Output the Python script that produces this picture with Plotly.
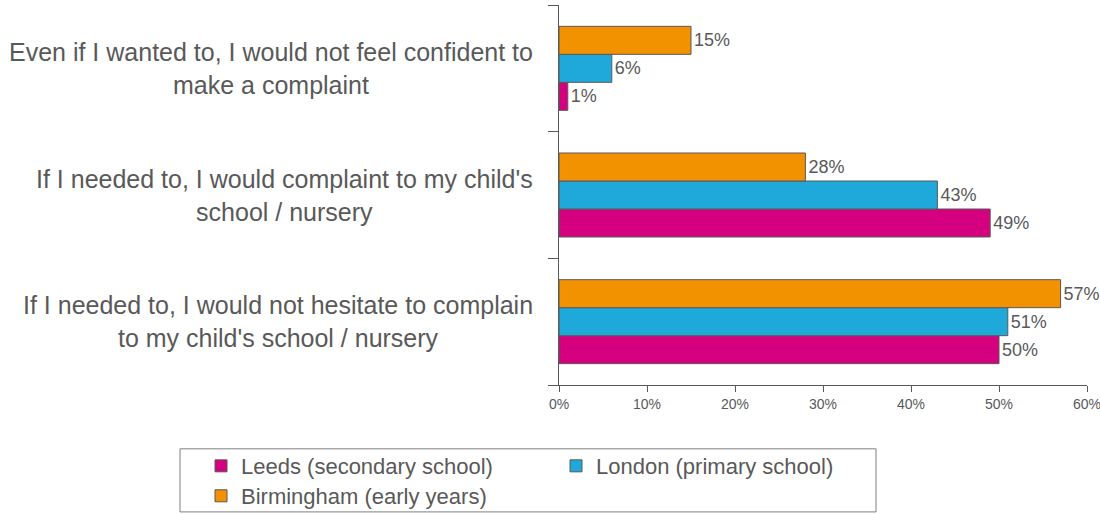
import plotly.graph_objects as go

# Survey statements (listed bottom to top along the category axis)
statements = [
    "If I needed to, I would not hesitate to complain<br>to my child's school / nursery",
    "If I needed to, I would complaint to my child's<br>school / nursery",
    "Even if I wanted to, I would not feel confident to<br>make a complaint",
]

series_names = ["Leeds (secondary school)", "London (primary school)", "Birmingham (early years)"]
leeds = [50, 49, 1]
london = [51, 43, 6]
birmingham = [57, 28, 15]
series_values = [leeds, london, birmingham]
series_colors = ["#D5007F", "#1FA9DB", "#F39200"]
series_legend = ["legend", "legend", "legend2"]

x_tick_values = [0, 10, 20, 30, 40, 50, 60]
x_tick_labels = ["0%", "10%", "20%", "30%", "40%", "50%", "60%"]

FONT = "Liberation Sans, Arial, sans-serif"
GREY = "#595959"

fig = go.Figure()
for name, vals, color, lg in zip(series_names, series_values, series_colors, series_legend):
    fig.add_trace(go.Bar(
        y=statements,
        x=vals,
        name=name,
        orientation="h",
        marker=dict(color=color, line=dict(color=GREY, width=1)),
        text=[f"{v}%" for v in vals],
        textposition="outside",
        textfont=dict(family=FONT, size=18, color=GREY),
        constraintext="none",
        cliponaxis=False,
        legend=lg,
    ))

# Category labels: each block right-aligned to the axis, lines centred within it
for s in statements:
    fig.add_annotation(
        x=0, xref="paper", xanchor="right", xshift=-24,
        y=s, yref="y", yanchor="middle",
        text=s, align="center", showarrow=False,
        font=dict(family=FONT, size=25, color=GREY),
    )

# Frame around both legend rows
fig.add_shape(type="rect", xref="paper", yref="paper",
              x0=-0.7178, x1=0.6004, y0=-0.334, y1=-0.168,
              line=dict(color="#7F7F7F", width=1), fillcolor="rgba(0,0,0,0)")

legend_common = dict(
    orientation="h", xanchor="left", yanchor="top",
    font=dict(family=FONT, size=22, color=GREY),
    bgcolor="rgba(0,0,0,0)", borderwidth=0,
    entrywidth=310, entrywidthmode="pixels",
)

fig.update_layout(
    width=1100, height=514,
    margin=dict(l=559, r=13, t=5, b=129, autoexpand=False),
    paper_bgcolor="white", plot_bgcolor="white",
    barmode="group", bargap=0.337, bargroupgap=0,
    xaxis=dict(
        range=[0, 60], tickvals=x_tick_values, ticktext=x_tick_labels,
        showgrid=False, zeroline=False,
        showline=True, linecolor=GREY, linewidth=1,
        ticks="outside", ticklen=6, tickcolor=GREY,
        tickfont=dict(family=FONT, size=14, color=GREY),
        ticklabeloverflow="allow",
    ),
    yaxis=dict(
        categoryorder="array", categoryarray=statements,
        showticklabels=False, showgrid=False, zeroline=False,
        showline=True, linecolor=GREY, linewidth=1,
        ticks="outside", ticklen=10, tickcolor=GREY, tickson="boundaries",
    ),
    legend=dict(x=-0.678, y=-0.158, **legend_common),
    legend2=dict(x=-0.678, y=-0.2368, **legend_common),
    showlegend=True,
)

fig.write_html("out.html")
